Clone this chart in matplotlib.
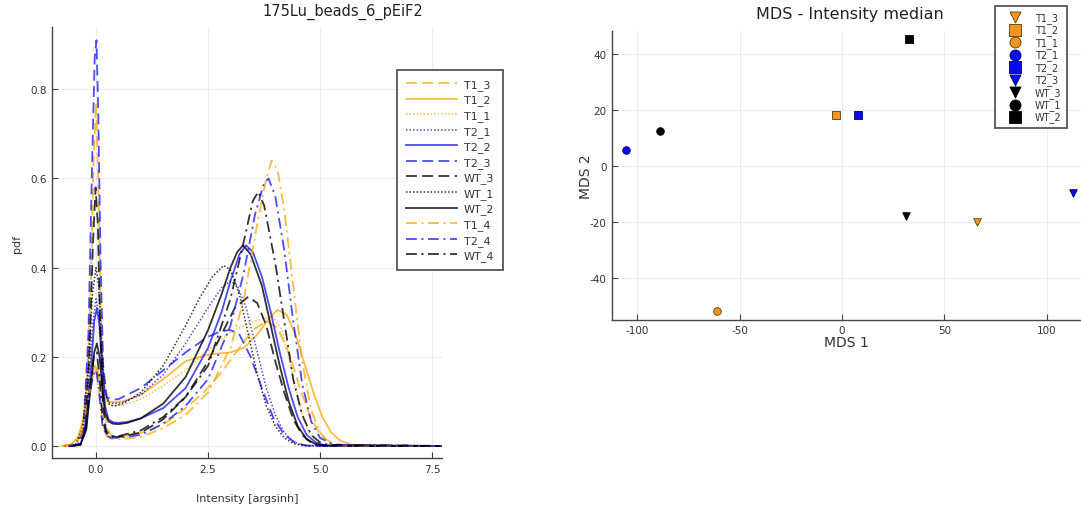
import matplotlib
matplotlib.use("Agg")
import matplotlib.pyplot as plt

# ---------------- density curves (left panel) ----------------
T1_3_x = [-0.75, -0.5, -0.35, -0.22, -0.12, -0.05, 0.0, 0.05, 0.1, 0.16, 0.24, 0.35, 0.5, 0.8, 1.2, 1.6, 2.0, 2.4, 2.8, 3.2, 3.5, 3.8, 4.05, 4.3, 4.55, 4.8, 5.05, 5.3, 5.6, 7.8]
T1_3_y = [0, 0.003, 0.02, 0.1, 0.35, 0.65, 0.77, 0.6, 0.32, 0.12, 0.04, 0.022, 0.02, 0.025, 0.035, 0.055, 0.085, 0.12, 0.165, 0.22, 0.26, 0.28, 0.265, 0.21, 0.13, 0.06, 0.02, 0.005, 0.001, 0]

T1_2_x = [-0.75, -0.55, -0.4, -0.25, -0.12, -0.03, 0.03, 0.1, 0.18, 0.28, 0.4, 0.6, 1.0, 1.5, 2.0, 2.5, 3.0, 3.3, 3.6, 3.85, 4.05, 4.25, 4.45, 4.65, 4.85, 5.05, 5.25, 5.45, 5.7, 6.0, 7.8]
T1_2_y = [0, 0.004, 0.02, 0.07, 0.14, 0.18, 0.17, 0.14, 0.11, 0.1, 0.098, 0.1, 0.115, 0.15, 0.19, 0.205, 0.21, 0.22, 0.25, 0.285, 0.305, 0.295, 0.25, 0.185, 0.12, 0.065, 0.03, 0.012, 0.003, 0.0005, 0]

T1_1_x = [-0.75, -0.55, -0.4, -0.25, -0.12, -0.03, 0.03, 0.1, 0.18, 0.28, 0.4, 0.6, 1.0, 1.5, 2.0, 2.5, 3.0, 3.4, 3.7, 3.95, 4.15, 4.3, 4.45, 4.6, 4.75, 4.9, 5.1, 7.8]
T1_1_y = [0, 0.004, 0.02, 0.08, 0.2, 0.29, 0.3, 0.22, 0.13, 0.095, 0.09, 0.092, 0.105, 0.135, 0.17, 0.215, 0.255, 0.275, 0.285, 0.29, 0.26, 0.2, 0.13, 0.07, 0.03, 0.01, 0.002, 0]

T2_1_x = [-0.7, -0.45, -0.3, -0.18, -0.08, 0.0, 0.06, 0.13, 0.2, 0.3, 0.42, 0.6, 1.0, 1.5, 2.0, 2.5, 2.8, 3.0, 3.15, 3.35, 3.6, 3.8, 4.0, 4.2, 4.4, 4.6, 4.8, 7.8]
T2_1_y = [0, 0.004, 0.03, 0.12, 0.27, 0.33, 0.3, 0.2, 0.12, 0.097, 0.095, 0.098, 0.115, 0.16, 0.23, 0.31, 0.355, 0.37, 0.36, 0.31, 0.21, 0.13, 0.07, 0.03, 0.01, 0.002, 0, 0]

T2_2_x = [-0.6, -0.35, -0.22, -0.12, -0.04, 0.02, 0.08, 0.14, 0.2, 0.28, 0.38, 0.5, 0.7, 1.0, 1.5, 2.0, 2.5, 2.8, 3.0, 3.2, 3.35, 3.5, 3.7, 3.9, 4.1, 4.3, 4.5, 4.7, 4.9, 5.1, 7.8]
T2_2_y = [0, 0.003, 0.04, 0.16, 0.28, 0.31, 0.27, 0.17, 0.09, 0.06, 0.053, 0.052, 0.054, 0.062, 0.085, 0.13, 0.22, 0.3, 0.37, 0.43, 0.45, 0.435, 0.38, 0.3, 0.21, 0.13, 0.065, 0.025, 0.008, 0.001, 0]

T2_3_x = [-0.6, -0.4, -0.28, -0.17, -0.09, -0.03, 0.01, 0.05, 0.1, 0.16, 0.24, 0.34, 0.5, 1.0, 1.5, 2.0, 2.5, 2.8, 3.0, 3.2, 3.45, 3.7, 3.95, 4.2, 4.45, 4.7, 5.0, 7.8]
T2_3_y = [0, 0.004, 0.04, 0.25, 0.62, 0.87, 0.91, 0.75, 0.42, 0.18, 0.11, 0.104, 0.105, 0.13, 0.17, 0.21, 0.245, 0.258, 0.26, 0.25, 0.2, 0.13, 0.065, 0.025, 0.007, 0.001, 0, 0]

WT_3_x = [-0.55, -0.35, -0.24, -0.15, -0.07, -0.01, 0.04, 0.09, 0.15, 0.22, 0.32, 0.5, 1.0, 1.5, 2.0, 2.5, 2.8, 3.1, 3.4, 3.6, 3.8, 4.0, 4.2, 4.4, 4.6, 4.8, 5.0, 7.8]
WT_3_y = [0, 0.003, 0.04, 0.2, 0.45, 0.58, 0.5, 0.28, 0.1, 0.035, 0.022, 0.02, 0.03, 0.06, 0.11, 0.19, 0.25, 0.31, 0.335, 0.32, 0.27, 0.19, 0.12, 0.06, 0.025, 0.008, 0.002, 0]

WT_1_x = [-0.7, -0.45, -0.3, -0.18, -0.08, 0.0, 0.06, 0.13, 0.2, 0.3, 0.42, 0.6, 1.0, 1.5, 2.0, 2.3, 2.6, 2.85, 3.0, 3.2, 3.4, 3.6, 3.8, 4.0, 4.2, 4.4, 4.6, 7.8]
WT_1_y = [0, 0.004, 0.04, 0.17, 0.34, 0.4, 0.36, 0.22, 0.12, 0.092, 0.09, 0.095, 0.12, 0.18, 0.27, 0.33, 0.38, 0.405, 0.395, 0.34, 0.25, 0.16, 0.09, 0.045, 0.018, 0.006, 0.001, 0]

WT_2_x = [-0.6, -0.35, -0.22, -0.12, -0.04, 0.02, 0.08, 0.14, 0.2, 0.28, 0.38, 0.5, 0.7, 1.0, 1.5, 2.0, 2.5, 2.8, 3.0, 3.15, 3.28, 3.45, 3.7, 3.9, 4.1, 4.3, 4.5, 4.7, 4.9, 5.1, 7.8]
WT_2_y = [0, 0.003, 0.035, 0.13, 0.21, 0.23, 0.2, 0.13, 0.075, 0.055, 0.05, 0.049, 0.052, 0.062, 0.095, 0.155, 0.26, 0.34, 0.4, 0.435, 0.45, 0.43, 0.36, 0.27, 0.18, 0.1, 0.045, 0.015, 0.004, 0.001, 0]

T1_4_x = [-0.75, -0.5, -0.35, -0.2, -0.09, 0.0, 0.07, 0.15, 0.24, 0.35, 0.5, 1.0, 1.5, 2.0, 2.5, 3.0, 3.3, 3.6, 3.8, 3.92, 4.05, 4.2, 4.4, 4.6, 4.8, 5.0, 5.2, 5.4, 7.8]
T1_4_y = [0, 0.003, 0.02, 0.09, 0.15, 0.17, 0.12, 0.05, 0.022, 0.016, 0.015, 0.02, 0.04, 0.07, 0.12, 0.22, 0.33, 0.5, 0.6, 0.64, 0.62, 0.53, 0.36, 0.19, 0.08, 0.03, 0.008, 0.001, 0]

T2_4_x = [-0.6, -0.4, -0.27, -0.15, -0.06, 0.01, 0.07, 0.14, 0.22, 0.32, 0.5, 1.0, 1.5, 2.0, 2.5, 3.0, 3.3, 3.55, 3.75, 3.85, 4.0, 4.2, 4.4, 4.6, 4.8, 5.0, 5.3, 7.8]
T2_4_y = [0, 0.003, 0.03, 0.11, 0.16, 0.17, 0.12, 0.05, 0.025, 0.019, 0.018, 0.025, 0.05, 0.09, 0.15, 0.27, 0.39, 0.52, 0.59, 0.6, 0.56, 0.44, 0.28, 0.14, 0.055, 0.018, 0.003, 0]

WT_4_x = [-0.55, -0.35, -0.23, -0.13, -0.05, 0.02, 0.08, 0.15, 0.23, 0.33, 0.5, 1.0, 1.5, 2.0, 2.5, 3.0, 3.3, 3.5, 3.62, 3.75, 4.0, 4.2, 4.4, 4.6, 4.8, 5.0, 5.2, 7.8]
WT_4_y = [0, 0.003, 0.04, 0.14, 0.2, 0.21, 0.15, 0.06, 0.028, 0.022, 0.022, 0.035, 0.065, 0.11, 0.18, 0.33, 0.46, 0.55, 0.57, 0.54, 0.41, 0.28, 0.15, 0.07, 0.025, 0.008, 0.002, 0]

density_labels = ["T1_3", "T1_2", "T1_1", "T2_1", "T2_2", "T2_3",
                  "WT_3", "WT_1", "WT_2", "T1_4", "T2_4", "WT_4"]

# ---------------- MDS (right panel) ----------------
mds_labels = ["T1_3", "T1_2", "T1_1", "T2_1", "T2_2", "T2_3", "WT_3", "WT_1", "WT_2"]
mds_x = [65.8, -2.9, -61.1, -105.6, 7.7, 113.1, 31.1, -89.0, 32.9]
mds_y = [-19.9, 18.2, -51.9, 5.7, 18.2, -9.5, -17.9, 12.6, 45.2]

# ---------------- styling ----------------
ORANGE = "#FFA500"
BLUE = "#0000FF"
BLACK = "#000000"
group_color = {"T1": ORANGE, "T2": BLUE, "WT": BLACK}
rep_style = {"1": (0, (1, 1.3)), "2": "-", "3": (0, (6, 3)), "4": (0, (6, 2.5, 1.2, 2.5))}
group_alpha = {"T1": 0.75, "T2": 0.7, "WT": 0.8}
marker_for = {"1": "o", "2": "s", "3": "v"}
marker_face = {"T1": "#F0961E", "T2": "#0A0AF0", "WT": "#000000"}
marker_edge = {"T1": "#5A3A10", "T2": "#00005A", "WT": "#000000"}

series = {
    "T1_3": (T1_3_x, T1_3_y), "T1_2": (T1_2_x, T1_2_y), "T1_1": (T1_1_x, T1_1_y),
    "T2_1": (T2_1_x, T2_1_y), "T2_2": (T2_2_x, T2_2_y), "T2_3": (T2_3_x, T2_3_y),
    "WT_3": (WT_3_x, WT_3_y), "WT_1": (WT_1_x, WT_1_y), "WT_2": (WT_2_x, WT_2_y),
    "T1_4": (T1_4_x, T1_4_y), "T2_4": (T2_4_x, T2_4_y), "WT_4": (WT_4_x, WT_4_y),
}

plt.rcParams["font.family"] = ["DejaVu Sans"]
plt.rcParams["axes.unicode_minus"] = False
W, H = 1081, 510
fig = plt.figure(figsize=(W / 100, H / 100), dpi=100)

def ax_rect(l, r, t, b):
    return [l / W, 1 - b / H, (r - l) / W, (b - t) / H]

TXT = "#333333"
SPINE = "#444444"

# ----- left panel -----
ax1 = fig.add_axes(ax_rect(52, 442, 28, 459))
for lab in density_labels:
    g, r = lab.split("_")
    xs, ys = series[lab]
    lw = 1.1 if r == "1" else 1.3
    ax1.plot(xs, ys, color=group_color[g], linestyle=rep_style[r], lw=lw,
             alpha=group_alpha[g], label=lab)
ax1.set_xlim(-0.982, 7.72)
ax1.set_ylim(-0.0269, 0.9397)
ax1.set_xticks([0, 2.5, 5.0, 7.5])
ax1.set_xticklabels(["0.0", "2.5", "5.0", "7.5"])
ax1.set_yticks([0, 0.2, 0.4, 0.6, 0.8])
ax1.set_yticklabels(["0.0", "0.2", "0.4", "0.6", "0.8"])
ax1.grid(True, color="#000000", alpha=0.07, lw=0.8)
ax1.set_axisbelow(True)
for s in ["top", "right"]:
    ax1.spines[s].set_visible(False)
for s in ["left", "bottom"]:
    ax1.spines[s].set_color(SPINE)
    ax1.spines[s].set_linewidth(1.0)
ax1.tick_params(direction="in", length=4, width=0.8, color=SPINE, labelsize=7.5,
                labelcolor=TXT, pad=4)
ax1.set_xlabel("Intensity [argsinh]", fontsize=8, color=TXT, labelpad=14)
ax1.set_ylabel("pdf", fontsize=8, color=TXT, labelpad=6)
fig.text(343 / W, 1 - 12 / H, "175Lu_beads_6_pEiF2", ha="center", va="center",
         fontsize=10.5, color="#222222")
leg1 = ax1.legend(loc="upper left", bbox_to_anchor=(397 / W, 1 - 71 / H),
                  bbox_transform=fig.transFigure, fontsize=8, handlelength=4.6,
                  labelspacing=0.42, handletextpad=0.6, borderpad=0.8,
                  borderaxespad=0, fancybox=False, framealpha=1,
                  edgecolor="#555555")
leg1.get_frame().set_linewidth(1.3)
for t in leg1.get_texts():
    t.set_color(TXT)

# ----- right panel -----
ax2 = fig.add_axes(ax_rect(612.3, 1081, 32.3, 320.7))
for lab, mx, my in zip(mds_labels, mds_x, mds_y):
    g, r = lab.split("_")
    ax2.scatter([mx], [my], marker=marker_for[r], s=30, c=marker_face[g],
                edgecolors=marker_edge[g], linewidths=0.6, label=lab, zorder=3)
ax2.set_xlim(-112.3, 116.8)
ax2.set_ylim(-54.9, 48.1)
ax2.set_xticks([-100, -50, 0, 50, 100])
ax2.set_yticks([-40, -20, 0, 20, 40])
ax2.grid(True, color="#000000", alpha=0.07, lw=0.8)
ax2.set_axisbelow(True)
for s in ["top", "right"]:
    ax2.spines[s].set_visible(False)
for s in ["left", "bottom"]:
    ax2.spines[s].set_color(SPINE)
    ax2.spines[s].set_linewidth(1.0)
ax2.tick_params(direction="in", length=4, width=0.8, color=SPINE, labelsize=7.5,
                labelcolor=TXT, pad=4)
ax2.set_xlabel("MDS 1", fontsize=10, color=TXT, labelpad=0)
ax2.set_ylabel("MDS 2", fontsize=10, color=TXT, labelpad=-2)
fig.text(850 / W, 1 - 15 / H, "MDS - Intensity median", ha="center", va="center",
         fontsize=11.5, color="#222222")
leg2 = ax2.legend(loc="upper left", bbox_to_anchor=(995 / W, 1 - 7 / H),
                  bbox_transform=fig.transFigure, fontsize=7, markerscale=1.45,
                  labelspacing=0.16, handletextpad=0.5, borderpad=0.6,
                  borderaxespad=0, fancybox=False, framealpha=1,
                  edgecolor="#555555", scatterpoints=1, handlelength=3.0)
leg2.get_frame().set_linewidth(1.3)
for t in leg2.get_texts():
    t.set_color(TXT)

fig.savefig("out.png", dpi=100)
